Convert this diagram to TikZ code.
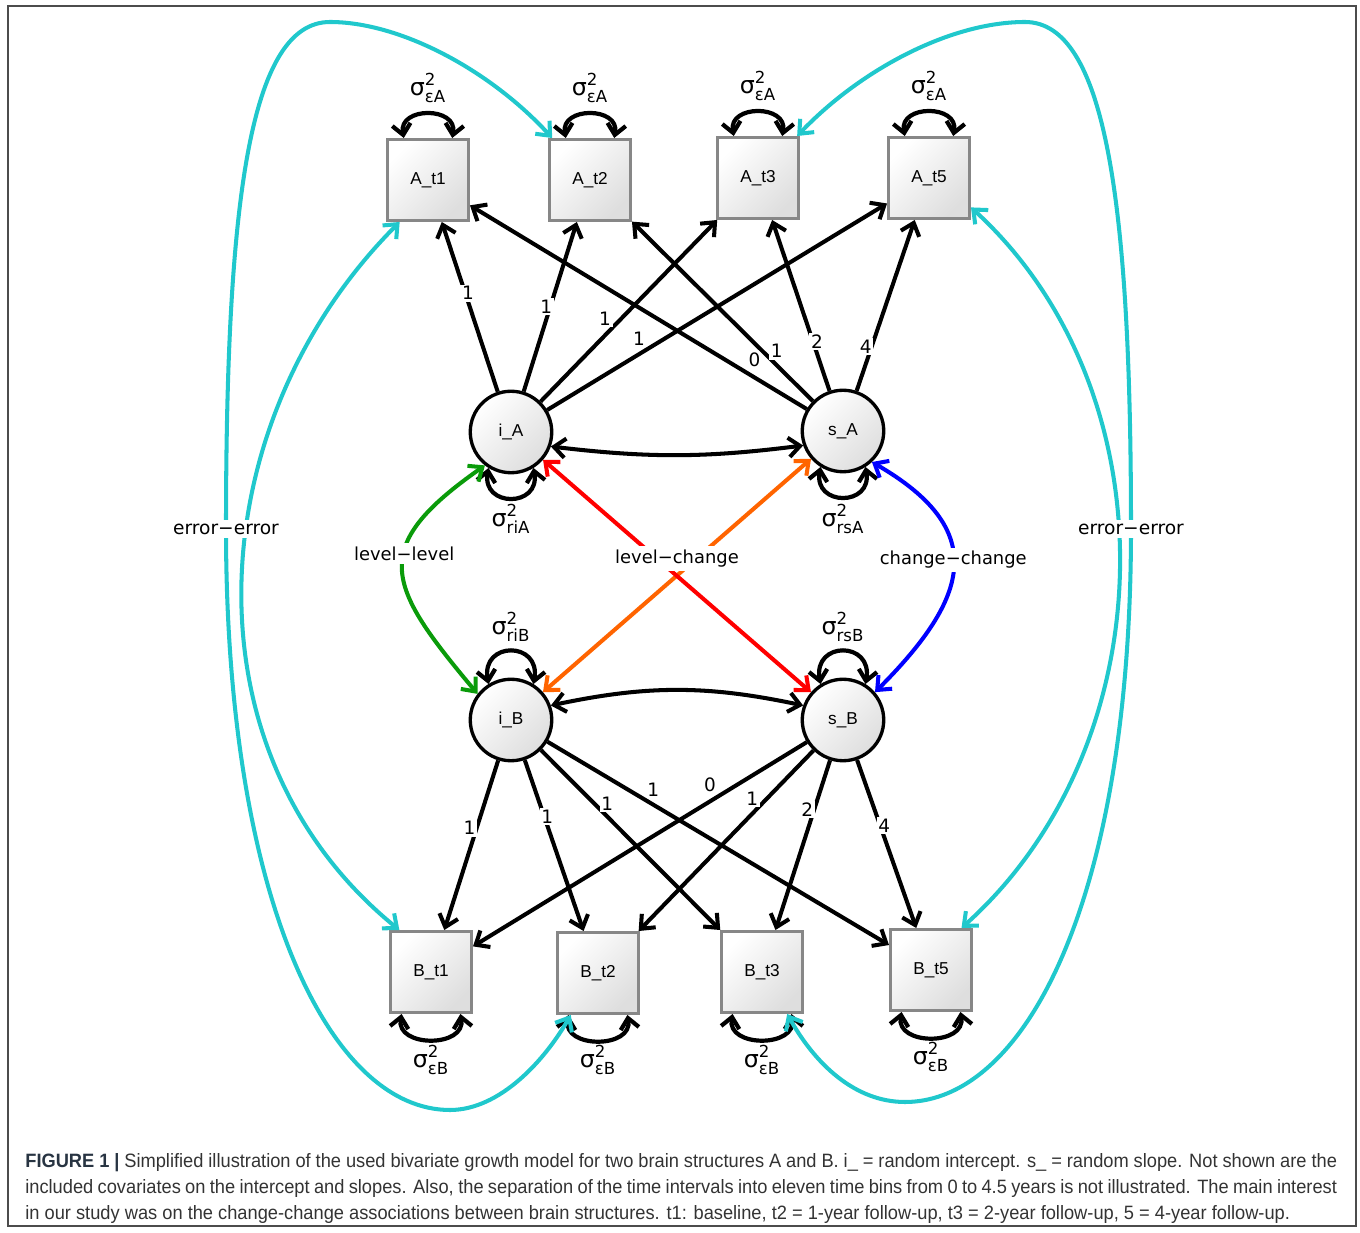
\documentclass[tikz,border=0pt]{standalone}
\usepackage{fontspec}
\usepackage{amsmath}
\setmainfont{DejaVu Sans}
\newfontfamily\boxfont{Liberation Sans}
\newfontfamily\capfont[FakeStretch=0.945]{Liberation Sans}
\usetikzlibrary{arrows.meta,shapes.geometric,calc}
\definecolor{errcyan}{RGB}{32,200,204}
\definecolor{levgreen}{RGB}{10,155,10}
\definecolor{chgblue}{RGB}{0,0,255}
\definecolor{lcred}{RGB}{255,0,0}
\definecolor{lcorange}{RGB}{255,100,0}
\definecolor{boxgray}{RGB}{135,135,135}
\definecolor{capblue}{RGB}{40,52,66}
\newcommand{\sig}[1]{$\text{σ}^{\text{2}}_{\text{#1}}$}

\begin{document}
\begin{tikzpicture}[x=0.02cm,y=0.02cm,
	  every node/.style={align=center,inner sep=0pt},
	  obs/.style={rectangle,draw=boxgray,line width=1.7pt,minimum size=1.62cm,top color=white,bottom color=black!13,shading angle=45,font=\boxfont\fontsize{9.8}{10}\selectfont},
	  latent/.style={circle,draw=black,line width=1.9pt,minimum size=1.63cm,top color=white,bottom color=black!13,shading angle=45,font=\boxfont\fontsize{9.8}{10}\selectfont},
	  sigma/.style={font=\fontsize{13.5}{15}\selectfont},
	  coef/.style={fill=white,inner sep=1pt,font=\fontsize{10.5}{12}\selectfont},
	  tag/.style={fill=white,inner sep=2pt,font=\fontsize{10.2}{12}\selectfont},
	  load/.style={->,>={Straight Barb[length=6.5pt,width=11pt]},line width=2.3pt},
	  twoway/.style={<->,>={Straight Barb[length=6.5pt,width=11pt]},line width=2.3pt},
	  varloop/.style={<->,>={Straight Barb[length=6pt,width=10.5pt]},line width=2.4pt},
	  errerr/.style={<->,>={Straight Barb[length=6.5pt,width=11pt]},draw=errcyan,line width=2.3pt}]

	  \useasboundingbox (0,0) rectangle (1360,1232);
	  \draw[black!70,line width=0.9pt] (8,6) rectangle (1356,1226);

	  % observed brain measures
	  \node[obs] (At1) at (428,1052) {A\_t1};
	  \node[obs] (At2) at (590,1052) {A\_t2};
	  \node[obs] (At3) at (758,1054) {A\_t3};
	  \node[obs] (At5) at (929,1054) {A\_t5};
	  \node[obs] (Bt1) at (431,260) {B\_t1};
	  \node[obs] (Bt2) at (598,259) {B\_t2};
	  \node[obs] (Bt3) at (762,260) {B\_t3};
	  \node[obs] (Bt5) at (931,262) {B\_t5};
	  % intercepts and slopes
	  \node[latent] (iA) at (511,800) {i\_A};
	  \node[latent] (sA) at (843,801) {s\_A};
	  \node[latent] (iB) at (511,512) {i\_B};
	  \node[latent] (sB) at (843,512) {s\_B};

	  \node[sigma] (vAt1) at (428,1144) {\sig{εA}};
	  \node[sigma] (vAt2) at (590,1144) {\sig{εA}};
	  \node[sigma] (vAt3) at (758,1146) {\sig{εA}};
	  \node[sigma] (vAt5) at (929,1146) {\sig{εA}};
	  \node[sigma] (vBt1) at (431,172) {\sig{εB}};
	  \node[sigma] (vBt2) at (598,172) {\sig{εB}};
	  \node[sigma] (vBt3) at (762,172) {\sig{εB}};
	  \node[sigma] (vBt5) at (931,175) {\sig{εB}};
	  \node[sigma] (viA) at (511,713) {\sig{riA}};
	  \node[sigma] (vsA) at (843,713) {\sig{rsA}};
	  \node[sigma] (viB) at (511,605) {\sig{riB}};
	  \node[sigma] (vsB) at (843,605) {\sig{rsB}};

	  % variances
	  \foreach \n in {At1,At2,At3,At5}
	    \draw[varloop] (\n.120) to[out=100,in=80,looseness=1.7] (\n.60);
	  \foreach \n in {Bt1,Bt2,Bt3,Bt5}
	    \draw[varloop] (\n.-125) to[out=-100,in=-80,looseness=1.5] (\n.-55);
	  \foreach \n in {iA,sA}
	    \draw[varloop] (\n.-122) to[out=-100,in=-80,looseness=2.3] (\n.-58);
	  \foreach \n in {iB,sB}
	    \draw[varloop] (\n.122) to[out=100,in=80,looseness=2.5] (\n.58);

	  % loadings
	  \draw[load] (iA) -- node[coef,pos=0.58,xshift=1.5pt] {1} (At1);
	  \draw[load] (iA) -- node[coef,pos=0.5,xshift=-2.3pt] {1} (At2);
	  \draw[load] (iA) -- node[coef,pos=0.42,xshift=-5.5pt,yshift=4pt] {1} (At3);
	  \draw[load] (iA) -- node[coef,pos=0.27,yshift=9pt] {1} (At5);
	  \draw[load] (sA) -- node[coef,pos=0.16,xshift=1pt,yshift=9.5pt] {0} (At1);
	  \draw[load] (sA) -- node[coef,pos=0.2,yshift=8pt] {1} (At2);
	  \draw[load] (sA) -- node[coef,pos=0.29,xshift=2.3pt] {2} (At3);
	  \draw[load] (sA) -- node[coef,pos=0.26,xshift=-3.4pt] {4} (At5);
	  \draw[load] (iB) -- node[coef,pos=0.4,xshift=-4pt] {1} (Bt1);
	  \draw[load] (iB) -- node[coef,pos=0.33,xshift=1.7pt] {1} (Bt2);
	  \draw[load] (iB) -- node[coef,pos=0.37,yshift=7.4pt] {1} (Bt3);
	  \draw[load] (iB) -- node[coef,pos=0.31,yshift=8.5pt] {1} (Bt5);
	  \draw[load] (sB) -- node[coef,pos=0.29,yshift=9.5pt] {0} (Bt1);
	  \draw[load] (sB) -- node[coef,pos=0.35,yshift=8.5pt] {1} (Bt2);
	  \draw[load] (sB) -- node[coef,pos=0.29,xshift=-4pt] {2} (Bt3);
	  \draw[load] (sB) -- node[coef,pos=0.39,xshift=2.3pt] {4} (Bt5);

	  % covariances
	  \draw[twoway] (iA.-20) to[bend right=7] (sA.200);
	  \draw[twoway] (iB.20) to[bend left=12] (sB.160);
	  \draw[twoway,draw=levgreen] (iA.232) to[out=215,in=130,looseness=1.6] node[tag,pos=0.42] {level−level} (iB.142);
	  \draw[twoway,draw=chgblue] (sA.-47) to[out=-30,in=45,looseness=1.5] node[tag,pos=0.47] {change−change} (sB.41);
	  \draw[twoway,draw=lcorange] (sA) -- (iB);
	  \draw[twoway,draw=lcred] (iA) -- node[tag,pos=0.5,yshift=10pt] {level−change} (sB);

	  % error covariances
	  \draw[errerr] (At1.-124) .. controls (201,811) and (179,481) .. (Bt1.127);
	  \draw[errerr] (At5.-35) .. controls (1174,839) and (1166,487) .. (Bt5.54);
	  \draw[errerr] (At2.132) .. controls (490,1162) and (400,1210) .. (330,1210)
	    .. controls (250,1210) and (226,1032) .. (226,703) node[tag,font=\fontsize{10.6}{12}\selectfont] {error−error}
	    .. controls (226,332) and (330,122) .. (450,122)
	    .. controls (500,122) and (545,172) .. (Bt2.-123);
	  \draw[errerr] (At3.47) .. controls (860,1162) and (950,1210) .. (1025,1210)
	    .. controls (1105,1210) and (1131,1032) .. (1131,703) node[tag,font=\fontsize{10.6}{12}\selectfont] {error−error}
	    .. controls (1131,332) and (1025,130) .. (905,130)
	    .. controls (855,130) and (815,168) .. (Bt3.-59);

	  \node[anchor=north west,text width=26.24cm,align=justify,text=black!80,font=\capfont\fontsize{11}{14.7}\selectfont] (cap) at (25,79)
	    {{\color{capblue}\bfseries FIGURE 1 |} Simplified illustration of the used bivariate growth model for two brain structures A and B. i\_ = random intercept. s\_ = random slope. Not shown are the\linebreak
	     included covariates on the intercept and slopes. Also, the separation of the time intervals into eleven time bins from 0 to 4.5 years is not illustrated. The main interest\linebreak
	     in our study was on the change-change associations between brain structures. t1: baseline, t2 = 1-year follow-up, t3 = 2-year follow-up, 5 = 4-year follow-up.};
\end{tikzpicture}
\end{document}
